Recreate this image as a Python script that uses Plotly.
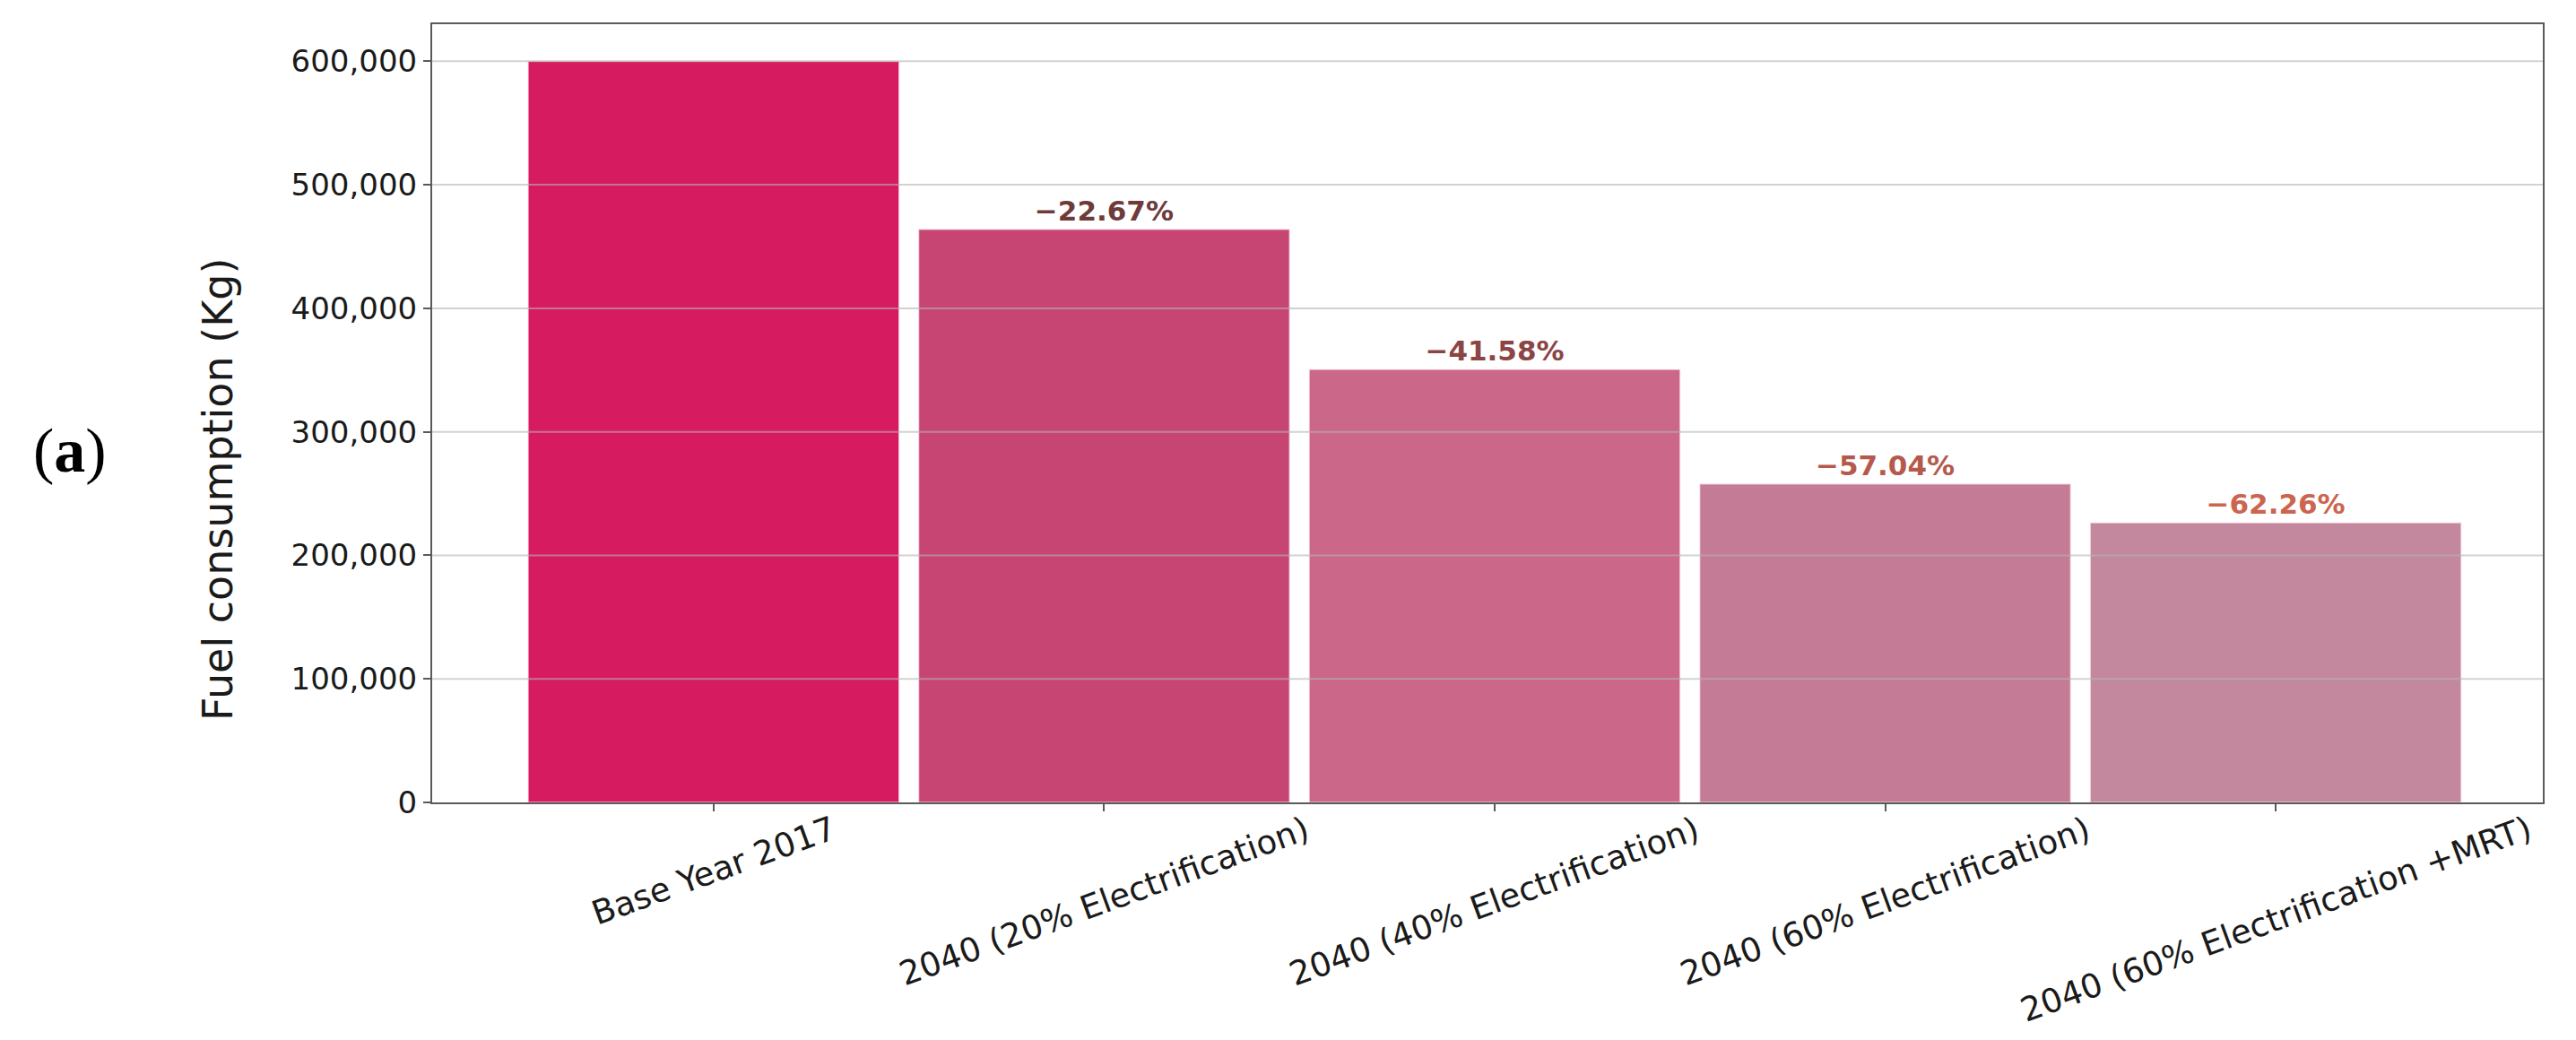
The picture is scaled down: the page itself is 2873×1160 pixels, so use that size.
import plotly.graph_objects as go

categories = [
    "Base Year 2017",
    "2040 (20% Electrification)",
    "2040 (40% Electrification)",
    "2040 (60% Electrification)",
    "2040 (60% Electrification +MRT)",
]
fuel_kg = [600000, 464000, 350500, 257800, 226400]
change_labels = ["", "−22.67%", "−41.58%", "−57.04%", "−62.26%"]
bar_colors = ["#D61B60", "#C64573", "#CB6789", "#C47B96", "#C3889E"]
label_colors = ["#6E3B3B", "#6E3B3B", "#8B4545", "#B5594C", "#CC654F"]
y_ticks = [0, 100000, 200000, 300000, 400000, 500000, 600000]

W, H = 2873, 1160
ML, MR, MT, MB = 474, 45, 19, 273
plot_w = W - ML - MR
plot_h = H - MT - MB

fig = go.Figure()
fig.add_trace(go.Bar(
    x=categories,
    y=fuel_kg,
    width=0.95,
    marker=dict(color=bar_colors, line=dict(color="rgba(255,235,242,0.7)", width=1.5)),
    text=[f"<b>{t}</b>" if t else "" for t in change_labels],
    textposition="outside",
    textfont=dict(family="DejaVu Sans", size=31, color=label_colors),
    cliponaxis=False,
    showlegend=False,
    hoverinfo="skip",
))

shapes = []
for v in y_ticks[1:]:
    shapes.append(dict(
        type="line", xref="paper", yref="y", x0=0, x1=1, y0=v, y1=v,
        line=dict(color="rgba(180,180,180,0.6)", width=2), layer="above",
    ))

annotations = []
for c in categories:
    annotations.append(dict(
        x=c, y=0, xref="x", yref="y", text=c, showarrow=False,
        textangle=-20, xanchor="center", yanchor="top", yshift=-6,
        borderpad=0,
        font=dict(family="DejaVu Sans", size=37, color="#1a1a1a"),
    ))
annotations.append(dict(
    x=(235 - ML) / plot_w, y=(H - MB - 538) / plot_h, xref="paper", yref="paper",
    text="Fuel consumption (Kg)", showarrow=False, textangle=-90,
    xanchor="center", yanchor="middle",
    font=dict(family="DejaVu Sans", size=46, color="#1a1a1a"),
))
annotations.append(dict(
    x=(70 - ML) / plot_w, y=(H - MB - 494) / plot_h, xref="paper", yref="paper",
    text="(<b>a</b>)", showarrow=False, xanchor="center", yanchor="middle",
    font=dict(family="Liberation Serif", size=70, color="#000000"),
))

fig.update_layout(
    width=W, height=H,
    margin=dict(l=ML, r=MR, t=MT, b=MB),
    paper_bgcolor="white", plot_bgcolor="white",
    shapes=shapes,
    annotations=annotations,
    font=dict(family="DejaVu Sans", color="#1a1a1a"),
)
fig.update_xaxes(
    range=[-0.7206, 4.684],
    showticklabels=False,
    showgrid=False,
    showline=True, mirror=True, linecolor="#5a5a5a", linewidth=2,
    ticks="outside", ticklen=8, tickcolor="#5a5a5a", tickwidth=2,
)
fig.update_yaxes(
    range=[0, 630000],
    tickvals=y_ticks,
    tickformat=",",
    tickfont=dict(family="DejaVu Sans", size=34, color="#1a1a1a"),
    showgrid=False, zeroline=False,
    showline=True, mirror=True, linecolor="#5a5a5a", linewidth=2,
    ticks="outside", ticklen=8, tickcolor="#5a5a5a", tickwidth=2,
)

fig.write_html("out.html")
